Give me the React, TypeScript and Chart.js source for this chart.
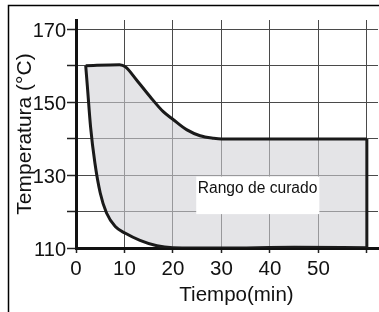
import { useEffect, useRef } from 'react';
import { Chart, registerables } from 'chart.js';

Chart.register(...registerables);

// Upper boundary of the curing range
const upperX = [2, 9, 10.2, 12.5, 15.3, 18, 20.1, 22.9, 25.6, 28.4, 30, 45, 60];
const upperY = [160, 160.3, 159.7, 156.1, 151.5, 147.4, 145.2, 142.4, 140.8, 140.1, 139.9, 139.9, 139.9];
// Lower boundary of the curing range
const lowerX = [2, 2.35, 3.0, 3.9, 5.0, 6.3, 8.1, 10.1, 13.2, 16.7, 20, 30, 45, 60];
const lowerY = [160, 154.3, 143.3, 133.3, 125.1, 119.6, 115.9, 114.1, 112.1, 110.6, 110.1, 110.0, 110.2, 110.1];
// Right closing edge at t = 60 min
const edgeX = [60, 60];
const edgeY = [139.9, 110];

const X_MIN = 0;
const X_MAX = 62.3;
const Y_MIN = 110;
const Y_MAX = 172.55;
const X_LABELED = [0, 10, 20, 30, 40, 50];
const Y_LABELED = [110, 130, 150, 170];

const X_TITLE = 'Tiempo(min)';
const Y_TITLE = 'Temperatura (°C)';
const BOX_TEXT = 'Rango de curado';
const BOX_X = [24.8, 50.2];
const BOX_Y = [129.6, 119.3];

const FONT = '"Liberation Sans", Arial, sans-serif';
const LINE = '#1a1a1a';

const toPts = (xs: number[], ys: number[]) => xs.map((x, i) => ({ x, y: ys[i] }));

const overlay = {
  id: 'overlay',
  afterDraw(chart: any) {
    const { ctx, scales, chartArea } = chart;
    const x = scales.x;
    const y = scales.y;
    ctx.save();
    // outer frame
    ctx.strokeStyle = '#000';
    ctx.lineWidth = 1.5;
    ctx.beginPath();
    ctx.moveTo(8.5, 330);
    ctx.lineTo(8.5, 5.5);
    ctx.lineTo(400, 5.5);
    ctx.stroke();
    // label box
    const l = x.getPixelForValue(BOX_X[0]);
    const r = x.getPixelForValue(BOX_X[1]);
    const t = y.getPixelForValue(BOX_Y[0]);
    const b = y.getPixelForValue(BOX_Y[1]);
    ctx.fillStyle = '#fff';
    ctx.fillRect(l, t, r - l, b - t);
    ctx.fillStyle = '#111';
    ctx.font = `15.6px ${FONT}`;
    ctx.textAlign = 'left';
    ctx.textBaseline = 'alphabetic';
    ctx.fillText(BOX_TEXT, l + 1.5, t + 16.8);
    // x title
    ctx.font = `20.5px ${FONT}`;
    ctx.textAlign = 'center';
    ctx.fillText(X_TITLE, (chartArea.left + chartArea.right) / 2 + 9.5, 300.5);
    // y title
    ctx.translate(30.5, (chartArea.top + chartArea.bottom) / 2);
    ctx.rotate(-Math.PI / 2);
    ctx.font = `21px ${FONT}`;
    ctx.fillText(Y_TITLE, 0, 0);
    ctx.restore();
  },
};

export default function App() {
  const ref = useRef<HTMLCanvasElement>(null);
  useEffect(() => {
    const canvas = ref.current;
    if (!canvas) return;
    const common = {
      showLine: true,
      borderColor: LINE,
      borderWidth: 3,
      pointRadius: 0,
      cubicInterpolationMode: 'monotone' as const,
    };
    const chart = new Chart(canvas, {
      type: 'scatter',
      data: {
        datasets: [
          {
            ...common,
            data: toPts(upperX, upperY),
            fill: '+1',
            backgroundColor: 'rgba(208,208,214,0.58)',
          },
          { ...common, data: toPts(lowerX, lowerY), fill: false },
          { ...common, data: toPts(edgeX, edgeY), fill: false, cubicInterpolationMode: 'default' as any },
        ],
      },
      options: {
        animation: false,
        responsive: false,
        devicePixelRatio: 1,
        layout: { padding: { left: 0, top: 20, right: 1, bottom: 0 } },
        plugins: {
          legend: { display: false },
          tooltip: { enabled: false },
          filler: { drawTime: 'beforeDatasetsDraw' },
        } as any,
        scales: {
          x: {
            type: 'linear',
            min: X_MIN,
            max: X_MAX,
            afterFit: (s: any) => {
              s.height = 64;
            },
            grid: { color: '#4a4a4a', lineWidth: 1, tickLength: 5, tickColor: '#222', tickWidth: 1.5 },
            border: { color: '#111', width: 3 },
            ticks: {
              stepSize: 10,
              includeBounds: false,
              autoSkip: false,
              maxRotation: 0,
              padding: 4,
              color: '#111',
              font: { family: FONT, size: 20.5 },
              callback: (v: any) => (X_LABELED.includes(Number(v)) ? String(v) : ''),
            },
          },
          y: {
            type: 'linear',
            min: Y_MIN,
            max: Y_MAX,
            afterFit: (s: any) => {
              s.width = 76;
            },
            grid: { color: '#4a4a4a', lineWidth: 1, tickLength: 9, tickColor: '#222', tickWidth: 1.5 },
            border: { color: '#111', width: 3 },
            ticks: {
              stepSize: 10,
              includeBounds: false,
              autoSkip: false,
              padding: 1,
              labelOffset: 2,
              color: '#111',
              font: { family: FONT, size: 20 },
              callback: (v: any) => (Y_LABELED.includes(Number(v)) ? String(v) : ''),
            },
          },
        },
      },
      plugins: [overlay],
    });
    return () => chart.destroy();
  }, []);
  return (
    <div style={{ position: 'absolute', left: 0, top: 0, width: 379, height: 312, background: '#fff' }}>
      <canvas ref={ref} width={379} height={312} style={{ display: 'block' }} />
    </div>
  );
}
